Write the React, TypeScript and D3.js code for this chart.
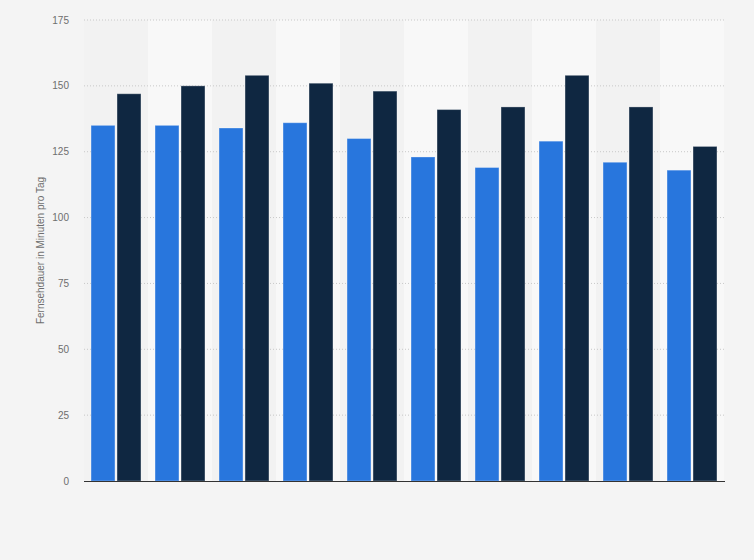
import React from "react";
import * as d3 from "d3";

const categories = ["1", "2", "3", "4", "5", "6", "7", "8", "9", "10"];
const seriesNames = ["A", "B"];
const seriesA = [135, 135, 134, 136, 130, 123, 119, 129, 121, 118];
const seriesB = [147, 150, 154, 151, 148, 141, 142, 154, 142, 127];
const yTicks = [0, 25, 50, 75, 100, 125, 150, 175];
const yTitle = "Fernsehdauer in Minuten pro Tag";
const colors = ["#2876dd", "#0f2741"];

const W = 754;
const H = 560;
const left = 84;
const right = 724;
const top = 20;
const bottom = 481;

export default function App() {
  const x = d3.scaleBand<string>().domain(categories).range([left, right]).paddingInner(0);
  const bw = x.bandwidth();
  const sub = d3
    .scaleBand<string>()
    .domain(seriesNames)
    .range([bw * 0.11, bw * 0.89])
    .paddingInner(0.08);
  const y = d3.scaleLinear().domain([0, 175]).range([bottom, top]);
  const values = [seriesA, seriesB];
  const font = "'Liberation Sans', Arial, Helvetica, sans-serif";

  return (
    <svg
      width={W}
      height={H}
      style={{ position: "absolute", left: 0, top: 0, display: "block" }}
      fontFamily={font}
    >
      <rect x={0} y={0} width={W} height={H} fill="#f4f4f4" />
      {categories.map((c, i) => (
        <rect
          key={"band" + c}
          x={x(c)}
          y={top}
          width={bw}
          height={bottom - top}
          fill={i % 2 === 1 ? "#f8f8f8" : "#f2f2f2"}
        />
      ))}
      {yTicks.map((t) => (
        <g key={"t" + t}>
          {t > 0 && (
            <line
              x1={left}
              x2={right}
              y1={y(t)}
              y2={y(t)}
              stroke="#c8c8c8"
              strokeWidth={1}
              strokeDasharray="1,2"
            />
          )}
          <text
            x={69}
            y={y(t)}
            dy="0.35em"
            textAnchor="end"
            fontSize={10}
            fill="#6e6e6e"
          >
            {t}
          </text>
        </g>
      ))}
      {categories.map((c, i) =>
        seriesNames.map((s, j) => {
          const v = values[j][i];
          return (
            <rect
              key={c + s}
              x={(x(c) as number) + (sub(s) as number)}
              y={y(v)}
              width={sub.bandwidth()}
              height={bottom - y(v)}
              fill={colors[j]}
              stroke="rgba(255,255,255,0.3)"
              strokeWidth={1}
            />
          );
        })
      )}
      <line x1={left} x2={right + 1} y1={bottom + 0.5} y2={bottom + 0.5} stroke="#333" strokeWidth={1.2} />
      <text
        transform={`translate(43.5,${(top + bottom) / 2}) rotate(-90)`}
        textAnchor="middle"
        fontSize={10}
        fill="#6e6e6e"
      >
        {yTitle}
      </text>
    </svg>
  );
}
